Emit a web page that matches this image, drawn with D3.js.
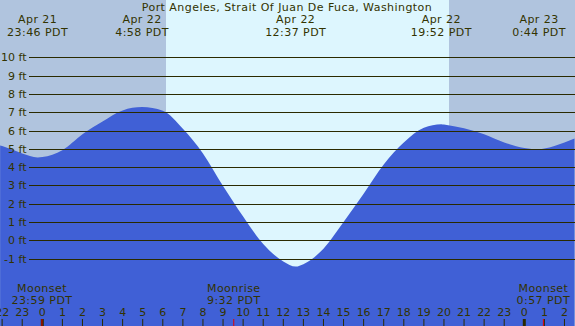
<!DOCTYPE html>
<html>
<head>
<meta charset="utf-8">
<script src="https://cdn.jsdelivr.net/npm/d3@7"></script>
<style>
  html, body { margin: 0; padding: 0; background: #fff; }
  svg { display: block; }
</style>
</head>
<body>
<script>
// 潮位データ（4月22日0時からの時間、ft）
const hours = [-2.1, -2, -1, -0.23, 0, 1, 2, 3, 4, 4.97, 6, 7, 8, 9, 10, 11, 12, 12.62, 13,
  14, 15, 16, 17, 18, 19, 19.87, 20, 21, 22, 23, 24, 24.73, 25, 26, 26.5];
const heights = [5.18, 5.15, 4.75, 4.53, 4.55, 4.93, 5.8, 6.5, 7.1, 7.28, 7.08, 6.1, 4.75, 2.97, 1.3, -0.2, -1.15, -1.43, -1.3,
  -0.45, 1.0, 2.55, 4.15, 5.35, 6.15, 6.35, 6.33, 6.12, 5.8, 5.35, 5.05, 4.98, 5.02, 5.35, 5.57];

// 満潮・干潮ラベル
const extremeHours = [-0.233, 4.967, 12.617, 19.867, 24.733];
const extremeDates = ["Apr 21", "Apr 22", "Apr 22", "Apr 22", "Apr 23"];
const extremeTimes = ["23:46 PDT", "4:58 PDT", "12:37 PDT", "19:52 PDT", "0:44 PDT"];

// 月の出・月の入り
const moonHours = [-0.017, 9.533, 24.95];
const moonEvents = ["Moonset", "Moonrise", "Moonset"];
const moonTimes = ["23:59 PDT", "9:32 PDT", "0:57 PDT"];

// 日の出・日の入り
const sunrise = 6.16;
const sunset = 20.25;

// 軸
const feetTicks = [-1, 0, 1, 2, 3, 4, 5, 6, 7, 8, 9, 10];
const hourTicks = d3.range(-2, 27);

const title = "Port Angeles, Strait Of Juan De Fuca, Washington";

const width = 575;
const height = 326;
const textColor = "#333300";
const fontSize = "11px";
const spacing = "0.45px";

const x = d3.scaleLinear().domain([0, 24]).range([42.3, 524.3]);
const y = d3.scaleLinear().domain([0, 10]).range([240.4, 57.3]);

const svg = d3.select(document.body)
  .append("svg")
  .attr("width", width)
  .attr("height", height)
  .attr("viewBox", `0 0 ${width} ${height}`)
  .style("font-family", "'DejaVu Sans', sans-serif");

// 背景（夜・昼）
svg.append("rect")
  .attr("x", 0).attr("y", 0)
  .attr("width", width).attr("height", height)
  .attr("fill", "#b0c4de");

svg.append("rect")
  .attr("x", x(sunrise)).attr("y", 0)
  .attr("width", x(sunset) - x(sunrise)).attr("height", height)
  .attr("fill", "#ddf6fe");

// 潮位エリア
const tide = hours.map((h, i) => ({ h, v: heights[i] }));
const area = d3.area()
  .x(d => x(d.h))
  .y0(height)
  .y1(d => y(d.v))
  .curve(d3.curveMonotoneX);

svg.append("path")
  .datum(tide)
  .attr("d", area)
  .attr("fill", "#4060d6");

// 水平グリッド線
svg.append("g")
  .selectAll("line")
  .data(feetTicks)
  .join("line")
  .attr("x1", 29)
  .attr("x2", width)
  .attr("y1", d => Math.round(y(d)) + 0.5)
  .attr("y2", d => Math.round(y(d)) + 0.5)
  .attr("stroke", "#2a2a00")
  .attr("stroke-width", 1.2)
  .attr("shape-rendering", "crispEdges");

svg.append("g")
  .selectAll("text")
  .data(feetTicks)
  .join("text")
  .attr("x", 26.5)
  .attr("y", d => y(d) + 4)
  .attr("text-anchor", "end")
  .attr("font-size", fontSize)
  .attr("fill", textColor)
  .text(d => `${d} ft`);

// タイトル
svg.append("text")
  .attr("x", 287)
  .attr("y", 11)
  .attr("text-anchor", "middle")
  .attr("font-size", fontSize)
  .attr("letter-spacing", spacing)
  .attr("fill", textColor)
  .text(title);

// 満潮・干潮
const ext = svg.append("g")
  .selectAll("g")
  .data(extremeHours)
  .join("g")
  .attr("transform", d => `translate(${x(d)},0)`);

ext.append("text")
  .attr("y", 23.3)
  .attr("text-anchor", "middle")
  .attr("font-size", fontSize)
  .attr("letter-spacing", spacing)
  .attr("fill", textColor)
  .text((d, i) => extremeDates[i]);

ext.append("text")
  .attr("y", 35.5)
  .attr("text-anchor", "middle")
  .attr("font-size", fontSize)
  .attr("letter-spacing", spacing)
  .attr("fill", textColor)
  .text((d, i) => extremeTimes[i]);

// 月
const moon = svg.append("g")
  .selectAll("g")
  .data(moonHours)
  .join("g")
  .attr("transform", d => `translate(${x(d)},0)`);

moon.append("text")
  .attr("y", 291.7)
  .attr("text-anchor", "middle")
  .attr("font-size", fontSize)
  .attr("letter-spacing", spacing)
  .attr("fill", textColor)
  .text((d, i) => moonEvents[i]);

moon.append("text")
  .attr("y", 304)
  .attr("text-anchor", "middle")
  .attr("font-size", fontSize)
  .attr("letter-spacing", spacing)
  .attr("fill", textColor)
  .text((d, i) => moonTimes[i]);

// 時間目盛り
svg.append("g")
  .selectAll("text")
  .data(hourTicks)
  .join("text")
  .attr("x", d => x(d))
  .attr("y", 315.7)
  .attr("text-anchor", "middle")
  .attr("font-size", fontSize)
  .attr("fill", textColor)
  .text(d => ((d % 24) + 24) % 24);

svg.append("g")
  .selectAll("line")
  .data(hourTicks)
  .join("line")
  .attr("x1", d => x(d))
  .attr("x2", d => x(d))
  .attr("y1", 319)
  .attr("y2", height)
  .attr("stroke", "#2a2a00")
  .attr("stroke-width", d => (d % 24 === 0 ? 3 : 1));

svg.append("g")
  .selectAll("line")
  .data(moonHours)
  .join("line")
  .attr("x1", d => x(d))
  .attr("x2", d => x(d))
  .attr("y1", 319)
  .attr("y2", height)
  .attr("stroke", "#e00000")
  .attr("stroke-width", 1);
</script>
</body>
</html>
